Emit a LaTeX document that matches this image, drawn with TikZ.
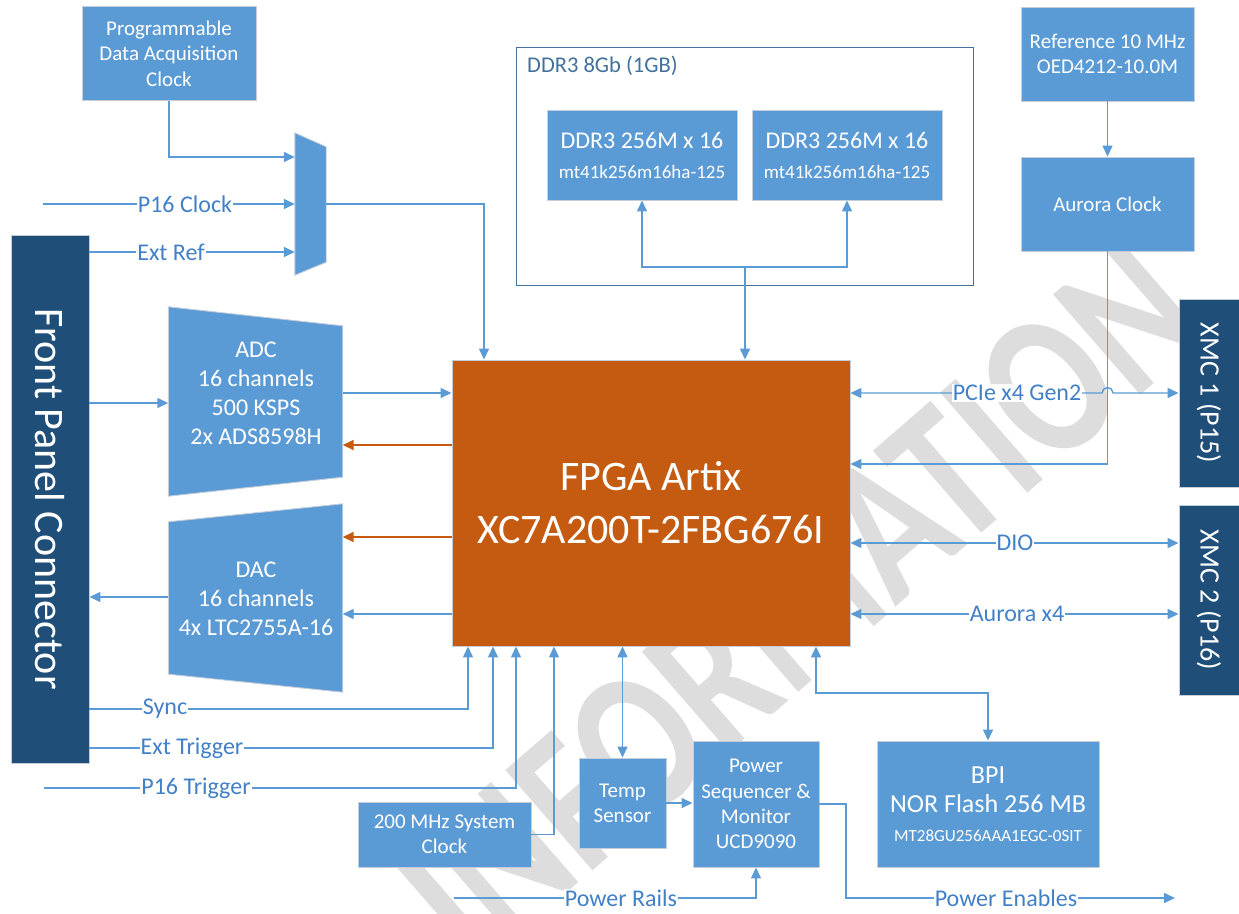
\documentclass[tikz,border=0pt]{standalone}
\usepackage{fontspec}
\setmainfont{Carlito}
\usepackage{graphicx}
\usetikzlibrary{arrows.meta,calc}
\definecolor{cBox}{RGB}{91,155,213}
\definecolor{cDark}{RGB}{31,78,121}
\definecolor{cOrange}{RGB}{197,90,17}
\definecolor{cLine}{RGB}{91,155,213}
\definecolor{cLabel}{RGB}{66,128,200}
\definecolor{cDdr}{RGB}{65,113,156}
\definecolor{cWm}{RGB}{221,221,221}
\definecolor{cBord}{RGB}{196,206,218}
\begin{document}
\begin{tikzpicture}[x=1pt,y=-1pt,
  blk/.style={rectangle, fill=cBox, draw=cBord, line width=0.9pt, text=white,
    font=\fontsize{21}{25.3}\selectfont, align=center, inner sep=0pt},
  dk/.style={rectangle, fill=cDark, draw=cBord, line width=0.9pt, text=white, inner sep=0pt},
  geo/.style={rectangle, inner sep=0pt},
  trap/.style={fill=cBox, draw=cBord, line width=0.9pt},
  txtw/.style={text=white, font=\fontsize{24}{29}\selectfont, align=center, inner sep=0pt},
  wire/.style={draw=cLine, line width=1.4pt},
  arr/.style={wire, -{Triangle[length=11pt,width=10pt]}},
  darr/.style={wire, {Triangle[length=11pt,width=10pt]}-{Triangle[length=11pt,width=10pt]}},
  oarr/.style={draw=cOrange, line width=1.6pt, -{Triangle[length=11pt,width=10pt]}},
  lbl/.style={fill=white, text=cLabel, font=\fontsize{24}{28}\selectfont, inner sep=1pt},
  wm/.style={text=cWm, font=\fontsize{205}{205}\selectfont\bfseries, rotate=41, xscale=0.78, inner sep=0pt}
]
\useasboundingbox (0,0) rectangle (1239,913);

% watermark
\node[wm] (wmark) at (800,603) {INFORMATION};

% DDR group
\node[rectangle, draw=cDdr, fill=white, line width=1pt, minimum width=457, minimum height=238] (ddr) at (744.5,166) {};
\node[text=cDdr, font=\fontsize{22.5}{26}\selectfont, anchor=west, inner sep=0pt] (ddrlbl) at (527,66) {DDR3 8Gb (1GB)};
\node[blk, font=\fontsize{19}{30}\selectfont, minimum width=190, minimum height=90] (chip1) at (642,155)
  {{\fontsize{24}{30}\selectfont DDR3 256M x 16}\\mt41k256m16ha-125};
\node[blk, font=\fontsize{19}{30}\selectfont, minimum width=190, minimum height=90] (chip2) at (847,155)
  {{\fontsize{24}{30}\selectfont DDR3 256M x 16}\\mt41k256m16ha-125};

% blocks
\node[blk, minimum width=174, minimum height=94] (prog) at (169,53.5) {Programmable\\Data Acquisition\\Clock};
\node[geo, minimum width=31, minimum height=142] (mux) at (310.5,204) {};
\fill[trap] (mux.north west) -- ($(mux.north east)+(0,14)$) -- ($(mux.south east)+(0,-13)$) -- (mux.south west) -- cycle;

\node[dk, minimum width=78, minimum height=528] (fp) at (50,499)
  {\rotatebox{-90}{\fontsize{42}{42}\selectfont Front Panel Connector}};

\node[geo, minimum width=174, minimum height=189] (adc) at (255.5,401.5) {};
\fill[trap] (adc.north west) -- ($(adc.north east)+(0,19)$) -- ($(adc.south east)+(0,-19)$) -- (adc.south west) -- cycle;
\node[txtw] (adct) at (256,393) {ADC\\16 channels\\500 KSPS\\2x ADS8598H};

\node[geo, minimum width=174, minimum height=188] (dac) at (255.5,598) {};
\fill[trap] ($(dac.north west)+(0,18)$) -- (dac.north east) -- (dac.south east) -- ($(dac.south west)+(0,-18)$) -- cycle;
\node[txtw] (dact) at (256,598.5) {DAC\\16 channels\\4x LTC2755A-16};

\node[rectangle, fill=cOrange, draw=cBord, line width=0.9pt, text=white, align=center, inner sep=0pt,
  font=\fontsize{42}{53}\selectfont, minimum width=398, minimum height=286] (fpga) at (651,503)
  {FPGA Artix\\XC7A200T-2FBG676I};

\node[blk, minimum width=173, minimum height=94] (ref) at (1107.5,54) {Reference 10 MHz\\OED4212-10.0M};
\node[blk, minimum width=173, minimum height=94] (aclk) at (1107.5,204) {Aurora Clock};

\node[dk, minimum width=60, minimum height=188] (xmc1) at (1209,393)
  {\rotatebox{-90}{\fontsize{28}{28}\selectfont XMC 1 (P15)}};
\node[dk, minimum width=60, minimum height=190] (xmc2) at (1209,600)
  {\rotatebox{-90}{\fontsize{28}{28}\selectfont XMC 2 (P16)}};

\node[blk, minimum width=173, minimum height=65] (clk200) at (444.5,834.5) {200 MHz System\\Clock};
\node[blk, minimum width=87, minimum height=90] (temp) at (622.5,803) {Temp\\Sensor};
\node[blk, minimum width=126, minimum height=126] (pwr) at (756,804) {Power\\Sequencer \&\\Monitor\\UCD9090};
\node[blk, font=\fontsize{26}{29}\selectfont, minimum width=222, minimum height=126] (bpi) at (988,804)
  {BPI\\NOR Flash 256 MB\\{\fontsize{17}{29}\selectfont MT28GU256AAA1EGC-0SIT}};

% free ends
\coordinate (p16c) at (43,204);
\coordinate (p16t) at (44,788);
\coordinate (prin) at (454,898);
\coordinate (pen) at (1175,898);
\coordinate (ddrJ) at (745,267);
\coordinate (bpiK) at (816,693);
\coordinate (penK) at (846,804);

% connectors: clocks
\draw[arr] (prog.south) |- (mux.west |- 0,157);
\draw[arr] (p16c) -- (mux.west |- p16c);
\draw[arr] (fp.east |- 0,252) -- (mux.west |- 0,252);
\draw[arr] (mux.east) -| (fpga.north -| 484,0);

% DDR
\draw[arr] (ddrJ) -- (fpga.north -| ddrJ);
\draw[arr] (ddrJ) -| (chip1.south);
\draw[arr] (ddrJ) -| (chip2.south);

% ADC / DAC
\draw[arr] (fp.east |- 0,403) -- (adc.west |- 0,403);
\draw[arr] (adc.east |- 0,393) -- (fpga.west |- 0,393);
\draw[oarr] (fpga.west |- 0,445) -- (adc.east |- 0,445);
\draw[oarr] (fpga.west |- 0,537) -- (dac.east |- 0,537);
\draw[arr] (fpga.west |- 0,614) -- (dac.east |- 0,614);
\draw[arr] (dac.west |- 0,597) -- (fp.east |- 0,597);

% bottom inputs
\draw[arr] (fp.east |- 0,709) -| (fpga.south -| 468,0);
\draw[arr] (fp.east |- 0,748) -| (fpga.south -| 493,0);
\draw[arr] (p16t) -| (fpga.south -| 516,0);
\draw[arr] (clk200.east) -| (fpga.south -| 554,0);
\draw[darr] (fpga.south -| temp.north) -- (temp.north);
\draw[arr] (temp.east) -- (pwr.west |- temp.east);
\draw[arr] (prin) -| (pwr.south);
\draw[arr] (pwr.east) -- (penK) |- (pen);
\draw[darr] (fpga.south -| bpiK) -- (bpiK) -| (bpi.north);

% right side
\draw[arr] (ref.south) -- (aclk.north);
\draw[arr] (aclk.south) |- (fpga.east |- 0,464);
\draw[darr] (fpga.east |- xmc1.west) -- ($(aclk.south |- xmc1.west)+(-5.5,0)$)
  arc[start angle=180, end angle=0, radius=5.5pt] -- (xmc1.west);
\draw[darr] (fpga.east |- 0,543) -- (xmc2.west |- 0,543);
\draw[darr] (fpga.east |- 0,614) -- (xmc2.west |- 0,614);

% labels
\node[lbl] (lP16c) at (185,204) {P16 Clock};
\node[lbl] (lExtRef) at (171,252) {Ext Ref};
\node[lbl] (lSync) at (165,709) {Sync};
\node[lbl] (lExtTrig) at (192,748) {Ext Trigger};
\node[lbl] (lP16t) at (196,788) {P16 Trigger};
\node[lbl] (lRails) at (621,898) {Power Rails};
\node[lbl] (lEnables) at (1006,898) {Power Enables};
\node[lbl] (lPCIe) at (1017,393) {PCIe x4 Gen2};
\node[lbl] (lDIO) at (1015,543) {DIO};
\node[lbl] (lAur) at (1017,614) {Aurora x4};
\end{tikzpicture}
\end{document}
